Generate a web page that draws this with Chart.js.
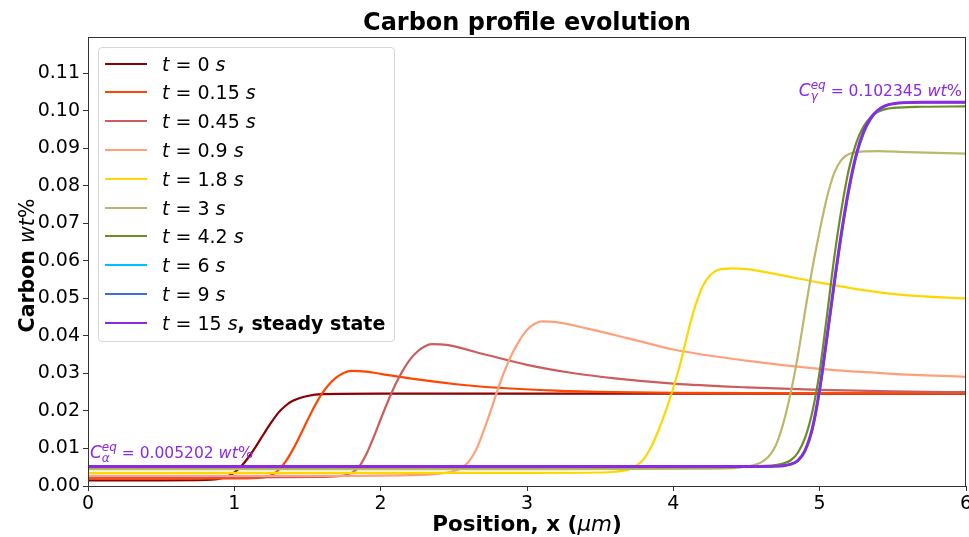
<!DOCTYPE html>
<html>
<head>
    <title>Carbon profile evolution</title>
    <script src="https://cdn.jsdelivr.net/npm/chart.js"></script>
    <style>
        body { margin: 0; background: #fff; }
        .wrap { position: relative; width: 969px; height: 537px; }
        #legend {
            position: absolute; left: 98px; top: 47px; width: 295px; height: 293px;
            border: 1px solid #d6d6d6; border-radius: 4px; background: rgba(255,255,255,0.8);
            font-family: "DejaVu Sans"; font-size: 19px; color: #000;
        }
        #legend .row { position: absolute; left: 0; height: 28px; line-height: 28px; white-space: nowrap; }
        #legend .swatch { position: absolute; left: 6px; top: 13px; width: 42px; height: 2px; }
        #legend .lbl { position: absolute; left: 63px; top: 0; }
    </style>
</head>
<body>
<div class="wrap">
    <canvas id="carbonChart" width="969" height="537"></canvas>
    <div id="legend"></div>
</div>
<script>
// time labels and colours of each profile
const times = ['0', '0.15', '0.45', '0.9', '1.8', '3', '4.2', '6', '9', '15'];
const colors = ['#8B0000', '#FF4500', '#CD5C5C', '#FFA07A', '#FFD700', '#BDB76B', '#6B8E23', '#00BFFF', '#4169E1', '#8A2BE2'];

// carbon profiles (position in um, carbon in wt%)
const x_t0 = [0, 0.5, 0.8, 0.95, 1.0, 1.05, 1.1, 1.15, 1.2, 1.25, 1.3, 1.35, 1.4, 1.5, 1.6, 2, 3, 4, 5, 6];
const c_t0 = [0.0015, 0.0015, 0.0016, 0.0025, 0.0036, 0.0054, 0.0078, 0.0107, 0.0138, 0.0168, 0.0195, 0.0214, 0.0227, 0.024, 0.0245, 0.0246, 0.0246, 0.0246, 0.0246, 0.0246];

const x_t015 = [0, 0.5, 1.0, 1.2, 1.25, 1.3, 1.35, 1.4, 1.45, 1.5, 1.55, 1.6, 1.65, 1.7, 1.75, 1.8, 1.9, 2.0, 2.2, 2.5, 2.8, 3.2, 3.6, 4, 5, 6];
const c_t015 = [0.0019, 0.0019, 0.002, 0.0023, 0.0028, 0.0042, 0.0065, 0.0097, 0.0135, 0.0175, 0.0214, 0.0247, 0.0272, 0.029, 0.0302, 0.0307, 0.0305, 0.0299, 0.0287, 0.0272, 0.0262, 0.0254, 0.025, 0.0248, 0.0247, 0.0247];

const x_t045 = [0, 1.0, 1.6, 1.75, 1.8, 1.85, 1.9, 1.95, 2.0, 2.05, 2.1, 2.15, 2.2, 2.25, 2.3, 2.35, 2.45, 2.7, 3.0, 3.3, 3.6, 4.0, 4.5, 5.0, 5.5, 6];
const c_t045 = [0.0023, 0.0023, 0.0024, 0.0028, 0.0035, 0.005, 0.0083, 0.0128, 0.0178, 0.0226, 0.027, 0.0307, 0.0337, 0.0358, 0.0372, 0.0378, 0.0376, 0.0352, 0.0323, 0.0302, 0.0287, 0.0273, 0.0263, 0.0256, 0.0252, 0.025];

const x_t09 = [0, 1.5, 2.2, 2.4, 2.5, 2.55, 2.6, 2.65, 2.7, 2.75, 2.8, 2.85, 2.9, 2.95, 3.0, 3.05, 3.1, 3.2, 3.4, 3.7, 4.0, 4.5, 5.0, 5.5, 6];
const c_t09 = [0.0027, 0.0027, 0.0029, 0.0033, 0.004, 0.0048, 0.0064, 0.0095, 0.0143, 0.0198, 0.0257, 0.031, 0.0354, 0.0389, 0.0416, 0.0432, 0.0439, 0.0437, 0.0421, 0.0393, 0.0364, 0.0334, 0.0312, 0.0299, 0.0291];

const x_t18 = [0, 2.0, 3.0, 3.5, 3.6, 3.7, 3.75, 3.8, 3.85, 3.9, 3.95, 4.0, 4.05, 4.1, 4.15, 4.2, 4.25, 4.3, 4.4, 4.5, 4.7, 5.0, 5.3, 5.6, 6];
const c_t18 = [0.0035, 0.0035, 0.0035, 0.0036, 0.0038, 0.0045, 0.0055, 0.0073, 0.0105, 0.0150, 0.0202, 0.0262, 0.033, 0.041, 0.048, 0.0532, 0.0561, 0.0575, 0.058, 0.0578, 0.0565, 0.0542, 0.0522, 0.0508, 0.05];

const x_t3 = [0, 3.0, 4.3, 4.5, 4.6, 4.65, 4.7, 4.75, 4.8, 4.85, 4.9, 4.95, 5.0, 5.05, 5.1, 5.15, 5.2, 5.3, 5.4, 5.6, 6];
const c_t3 = [0.0045, 0.0045, 0.0046, 0.0052, 0.0063, 0.0078, 0.0108, 0.0165, 0.0245, 0.0345, 0.0465, 0.058, 0.068, 0.077, 0.0835, 0.087, 0.0885, 0.0892, 0.0893, 0.089, 0.0886];

const x_t42 = [0, 4.0, 4.5, 4.6, 4.7, 4.75, 4.8, 4.85, 4.9, 4.95, 5.0, 5.05, 5.1, 5.15, 5.2, 5.25, 5.3, 5.35, 5.4, 5.5, 5.7, 6];
const c_t42 = [0.005, 0.005, 0.0051, 0.0053, 0.0056, 0.006, 0.0068, 0.0088, 0.0128, 0.0198, 0.0305, 0.0455, 0.061, 0.074, 0.0845, 0.0915, 0.0958, 0.0984, 0.0998, 0.1008, 0.1011, 0.1012];

const x_late = [0, 4.0, 4.5, 4.6, 4.7, 4.75, 4.8, 4.85, 4.9, 4.95, 5.0, 5.05, 5.1, 5.15, 5.2, 5.25, 5.3, 5.35, 5.4, 5.45, 5.5, 5.7, 6];
const c_t6 = [0.0052, 0.0052, 0.0052, 0.0052, 0.0053, 0.0054, 0.0057, 0.0066, 0.0092, 0.0148, 0.025, 0.0388, 0.0532, 0.0668, 0.0785, 0.0877, 0.0939, 0.0978, 0.1001, 0.1013, 0.1019, 0.1023, 0.1023];
const c_t9 = [0.0052, 0.0052, 0.0052, 0.0052, 0.0053, 0.0054, 0.0058, 0.0067, 0.0094, 0.0152, 0.0255, 0.0394, 0.0538, 0.0674, 0.079, 0.0881, 0.0942, 0.098, 0.1002, 0.1014, 0.1019, 0.1023, 0.1023];
const c_t15 = [0.0052, 0.0052, 0.0052, 0.0052, 0.0053, 0.0054, 0.0058, 0.0068, 0.0095, 0.0155, 0.026, 0.04, 0.0545, 0.068, 0.0795, 0.0885, 0.0945, 0.0982, 0.1003, 0.1014, 0.1019, 0.1023, 0.1023];

const profilesX = [x_t0, x_t015, x_t045, x_t09, x_t18, x_t3, x_t42, x_late, x_late, x_late];
const profilesC = [c_t0, c_t015, c_t045, c_t09, c_t18, c_t3, c_t42, c_t6, c_t9, c_t15];

// equilibrium concentrations
const cAlphaEq = 0.005202;
const cGammaEq = 0.102345;

const xTicks = [0, 1, 2, 3, 4, 5, 6];
const yTicks = [0, 0.01, 0.02, 0.03, 0.04, 0.05, 0.06, 0.07, 0.08, 0.09, 0.10, 0.11];

const FONT = '"DejaVu Sans"';

// draw a list of text pieces with separate fonts / offsets
function drawRuns(ctx, runs, x, y, align) {
    let total = 0;
    runs.forEach(r => { ctx.font = r.font; r.w = ctx.measureText(r.text).width; if (!r.noAdvance) total += r.w; });
    let cx = align === 'center' ? x - total / 2 : (align === 'right' ? x - total : x);
    ctx.textBaseline = 'alphabetic';
    ctx.textAlign = 'left';
    runs.forEach(r => {
        ctx.font = r.font;
        ctx.fillText(r.text, cx + (r.dx || 0), y + (r.dy || 0));
        if (!r.noAdvance) cx += r.w;
    });
}

function eqLabel(sub, value) {
    return [
        { text: 'C', font: 'italic 17px ' + FONT },
        { text: sub, font: 'italic 12px ' + FONT, dy: 4, noAdvance: true },
        { text: 'eq', font: 'italic 12px ' + FONT, dy: -7 },
        { text: ' = ', font: '15.5px ' + FONT },
        { text: value + ' ', font: '15.5px ' + FONT },
        { text: 'wt', font: 'italic 16px ' + FONT },
        { text: '%', font: '16px ' + FONT }
    ];
}

const decorPlugin = {
    id: 'decor',
    afterDatasetsDraw(chart) {
        const ctx = chart.ctx;
        const a = chart.chartArea;
        const xs = chart.scales.x, ys = chart.scales.y;
        ctx.save();
        // frame
        ctx.strokeStyle = '#333';
        ctx.lineWidth = 1;
        ctx.strokeRect(a.left + 0.5, a.top + 0.5, a.right - a.left - 1, a.bottom - a.top);

        // equilibrium annotations
        ctx.fillStyle = '#8A2BE2';
        drawRuns(ctx, eqLabel('α', cAlphaEq.toFixed(6)), xs.getPixelForValue(0) + 2, ys.getPixelForValue(cAlphaEq) - 8, 'left');
        drawRuns(ctx, eqLabel('γ', cGammaEq.toFixed(6)), xs.getPixelForValue(6) - 4, ys.getPixelForValue(cGammaEq) - 6, 'right');

        // title and axis titles
        ctx.fillStyle = '#000';
        const cxp = (a.left + a.right) / 2;
        drawRuns(ctx, [{ text: 'Carbon profile evolution', font: 'bold 24px ' + FONT }], cxp, 30, 'center');
        drawRuns(ctx, [
            { text: 'Position, x (', font: 'bold 21.5px ' + FONT },
            { text: 'μm', font: 'italic 21.5px ' + FONT },
            { text: ')', font: 'bold 21.5px ' + FONT }
        ], cxp, 531, 'center');
        ctx.translate(34, (a.top + a.bottom) / 2 + 4);
        ctx.rotate(-Math.PI / 2);
        drawRuns(ctx, [
            { text: 'Carbon ', font: 'bold 20.5px ' + FONT },
            { text: 'wt', font: 'italic 20.5px ' + FONT },
            { text: '%', font: '20.5px ' + FONT }
        ], 0, 0, 'center');
        ctx.restore();
    }
};

const datasets = times.map((t, i) => ({
    label: 't = ' + t + ' s',
    data: profilesX[i].map((x, k) => ({ x: x, y: profilesC[i][k] })),
    borderColor: colors[i],
    borderWidth: i === times.length - 1 ? 2.8 : 2.2,
    pointRadius: 0,
    fill: false,
    cubicInterpolationMode: 'monotone',
    order: times.length - i
}));

new Chart(document.getElementById('carbonChart').getContext('2d'), {
    type: 'line',
    data: { datasets: datasets },
    options: {
        responsive: false,
        animation: false,
        devicePixelRatio: 1,
        layout: { padding: { left: 0, right: 3, top: 37, bottom: 0 } },
        plugins: { legend: { display: false }, title: { display: false }, tooltip: { enabled: false } },
        scales: {
            x: {
                type: 'linear', min: 0, max: 6,
                afterFit: s => { s.height = 51; s.paddingLeft = 0; s.paddingRight = 0; },
                afterBuildTicks: s => { s.ticks = xTicks.map(v => ({ value: v })); },
                ticks: { font: { family: 'DejaVu Sans', size: 19 }, color: '#000', padding: 2, maxRotation: 0,
                         callback: v => String(v) },
                grid: { drawOnChartArea: false, drawTicks: true, tickLength: 5, color: '#333' },
                border: { display: false }
            },
            y: {
                type: 'linear', min: 0, max: 0.1197,
                afterFit: s => { s.width = 88; s.paddingTop = 0; s.paddingBottom = 0; },
                afterBuildTicks: s => { s.ticks = yTicks.map(v => ({ value: v })); },
                ticks: { font: { family: 'DejaVu Sans', size: 19 }, color: '#000', padding: 3,
                         callback: v => Number(v).toFixed(2) },
                grid: { drawOnChartArea: false, drawTicks: true, tickLength: 5, color: '#333' },
                border: { display: false }
            }
        }
    },
    plugins: [decorPlugin]
});

// legend box inside the axes
const legend = document.getElementById('legend');
times.forEach((t, i) => {
    const row = document.createElement('div');
    row.className = 'row';
    row.style.top = (1.5 + i * 28.8) + 'px';
    const sw = document.createElement('div');
    sw.className = 'swatch';
    sw.style.background = colors[i];
    const lbl = document.createElement('div');
    lbl.className = 'lbl';
    lbl.innerHTML = '<i>t</i> = ' + t + ' <i>s</i>' + (i === times.length - 1 ? '<b>, steady state</b>' : '');
    row.appendChild(sw);
    row.appendChild(lbl);
    legend.appendChild(row);
});
</script>
</body>
</html>
